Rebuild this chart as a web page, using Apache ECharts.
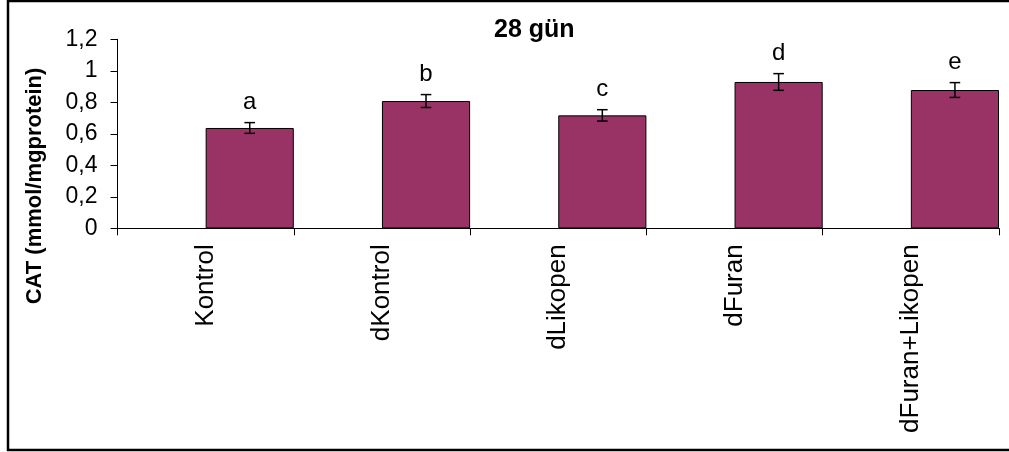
<!DOCTYPE html>
<html>
<head>
<meta charset="utf-8">
<script src="https://cdn.jsdelivr.net/npm/echarts@6/dist/echarts.min.js"></script>
<style>html,body{margin:0;padding:0;background:#fff}#c{width:1009px;height:452px}</style>
</head>
<body>
<div id="c"></div>
<script>
const categories = ['Kontrol', 'dKontrol', 'dLikopen', 'dFuran', 'dFuran+Likopen'];
const means = [0.637, 0.808, 0.717, 0.929, 0.878];
const errors = [0.034, 0.041, 0.036, 0.053, 0.047];
const letters = ['a', 'b', 'c', 'd', 'e'];
const yTicks = [0, 0.2, 0.4, 0.6, 0.8, 1, 1.2];
const yTitle = 'CAT (mmol/mgprotein)';

const chart = echarts.init(document.getElementById('c'), null, {renderer: 'canvas'});
const FONT = '"Liberation Sans", Arial, sans-serif';

chart.setOption({
  animation: false,
  backgroundColor: '#fff',
  title: {
    text: '28 gün', left: 489, top: 13,
    textStyle: {fontFamily: FONT, fontSize: 25, fontWeight: 'bold', color: '#000'}
  },
  graphic: [{
    type: 'rect', shape: {x: 8, y: 1, width: 1010, height: 449},
    style: {fill: 'none', stroke: '#000', lineWidth: 2.5}, silent: true
  }, {
    type: 'text', x: 35, y: 186, rotation: Math.PI / 2,
    style: {text: yTitle, textAlign: 'center', textVerticalAlign: 'middle',
      font: 'bold 22px ' + FONT, fill: '#000'}, silent: true
  }],
  grid: {left: 117.5, right: 10, top: 39.3, bottom: 223.7, containLabel: false},
  xAxis: {
    type: 'category', data: categories, boundaryGap: true,
    axisLine: {lineStyle: {color: '#000', width: 1}},
    axisTick: {show: true, length: 7, lineStyle: {color: '#000'}},
    axisLabel: {rotate: 90, margin: 16, fontFamily: FONT, fontSize: 26, color: '#000', interval: 0}
  },
  yAxis: {
    type: 'value', min: 0, max: 1.2, interval: 0.2,
    axisLine: {show: true, lineStyle: {color: '#000', width: 1}},
    axisTick: {show: true, length: 7, lineStyle: {color: '#000'}},
    splitLine: {show: false},
    axisLabel: {
      margin: 20, fontFamily: FONT, fontSize: 23, color: '#000',
      formatter: v => String(+v.toFixed(1)).replace('.', ',')
    }
  },
  series: [
    {type: 'bar', data: categories.map(() => null), barGap: '0%', barCategoryGap: '0%'},
    {
      type: 'bar', data: means, barGap: '0%', barCategoryGap: '0%',
      itemStyle: {color: '#993366', borderColor: '#000', borderWidth: 1}
    },
    {
      type: 'custom', z: 10,
      data: means.map((m, i) => [i, m, errors[i]]),
      renderItem: function (params, api) {
        const i = api.value(0), m = api.value(1), e = api.value(2);
        const cw = api.size([1, 0])[0];
        const c = api.coord([i, m]);
        const x = c[0] + cw / 4;
        const top = api.coord([i, m + e])[1];
        const bot = api.coord([i, m - e])[1];
        const h = 5.3;
        const st = {stroke: '#000', lineWidth: 1.5};
        return {
          type: 'group', children: [
            {type: 'line', shape: {x1: x, y1: top, x2: x, y2: bot}, style: st},
            {type: 'line', shape: {x1: x - h, y1: top, x2: x + h, y2: top}, style: st},
            {type: 'line', shape: {x1: x - h, y1: bot, x2: x + h, y2: bot}, style: st},
            {type: 'text', style: {
              text: letters[params.dataIndex], x: x, y: top - 8,
              textAlign: 'center', textVerticalAlign: 'bottom',
              font: '24px ' + FONT, fill: '#000'
            }}
          ]
        };
      }
    }
  ]
});
</script>
</body>
</html>
